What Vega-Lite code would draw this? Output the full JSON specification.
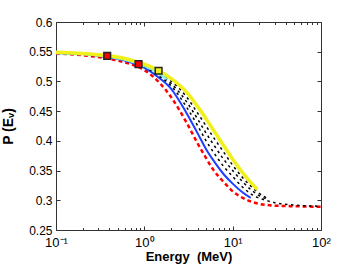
{
  "$schema": "https://vega.github.io/schema/vega-lite/v6.json",
  "width": 265,
  "height": 208,
  "autosize": {"type": "none"},
  "padding": {"left": 56, "top": 22, "right": 33, "bottom": 37},
  "background": "white",
  "config": {
    "view": {"stroke": null},
    "axis": {
      "labelFont": "Liberation Sans",
      "titleFont": "Liberation Sans",
      "labelFontSize": 12,
      "titleFontSize": 13,
      "titleFontWeight": "bold",
      "labelColor": "#000",
      "titleColor": "#000",
      "domainColor": "#333",
      "tickColor": "#333",
      "grid": false
    }
  },
  "datasets": {
    "curves": [
      {"s": "red", "E": 0.1, "P": 0.547}, {"s": "red", "E": 0.2, "P": 0.544}, {"s": "red", "E": 0.3, "P": 0.541}, {"s": "red", "E": 0.5, "P": 0.535}, {"s": "red", "E": 0.7, "P": 0.529}, {"s": "red", "E": 1, "P": 0.519}, {"s": "red", "E": 1.5, "P": 0.497}, {"s": "red", "E": 2, "P": 0.474}, {"s": "red", "E": 3, "P": 0.431}, {"s": "red", "E": 4, "P": 0.396}, {"s": "red", "E": 5, "P": 0.371}, {"s": "red", "E": 6, "P": 0.352}, {"s": "red", "E": 8, "P": 0.330}, {"s": "red", "E": 10, "P": 0.315}, {"s": "red", "E": 13, "P": 0.304}, {"s": "red", "E": 16, "P": 0.298}, {"s": "red", "E": 20, "P": 0.294}, {"s": "red", "E": 30, "P": 0.291}, {"s": "red", "E": 50, "P": 0.290}, {"s": "red", "E": 100, "P": 0.289},
      {"s": "blue", "E": 0.1, "P": 0.548}, {"s": "blue", "E": 0.2, "P": 0.546}, {"s": "blue", "E": 0.3, "P": 0.543}, {"s": "blue", "E": 0.5, "P": 0.538}, {"s": "blue", "E": 0.7, "P": 0.532}, {"s": "blue", "E": 1, "P": 0.523}, {"s": "blue", "E": 1.5, "P": 0.505}, {"s": "blue", "E": 2, "P": 0.488}, {"s": "blue", "E": 3, "P": 0.447}, {"s": "blue", "E": 4, "P": 0.413}, {"s": "blue", "E": 5, "P": 0.386}, {"s": "blue", "E": 6, "P": 0.368}, {"s": "blue", "E": 8, "P": 0.343}, {"s": "blue", "E": 10, "P": 0.328}, {"s": "blue", "E": 13, "P": 0.313}, {"s": "blue", "E": 16, "P": 0.304},
      {"s": "b1", "E": 0.1, "P": 0.548}, {"s": "b1", "E": 0.2, "P": 0.546}, {"s": "b1", "E": 0.3, "P": 0.544}, {"s": "b1", "E": 0.5, "P": 0.539}, {"s": "b1", "E": 0.7, "P": 0.533}, {"s": "b1", "E": 1, "P": 0.525}, {"s": "b1", "E": 1.5, "P": 0.508}, {"s": "b1", "E": 2, "P": 0.493}, {"s": "b1", "E": 3, "P": 0.457}, {"s": "b1", "E": 4, "P": 0.426}, {"s": "b1", "E": 5, "P": 0.400}, {"s": "b1", "E": 6, "P": 0.382}, {"s": "b1", "E": 8, "P": 0.356}, {"s": "b1", "E": 10, "P": 0.340}, {"s": "b1", "E": 13, "P": 0.322}, {"s": "b1", "E": 16, "P": 0.311}, {"s": "b1", "E": 19, "P": 0.305}, {"s": "b1", "E": 25, "P": 0.299}, {"s": "b1", "E": 30, "P": 0.296}, {"s": "b1", "E": 50, "P": 0.292}, {"s": "b1", "E": 100, "P": 0.290},
      {"s": "b2", "E": 0.1, "P": 0.549}, {"s": "b2", "E": 0.2, "P": 0.547}, {"s": "b2", "E": 0.3, "P": 0.544}, {"s": "b2", "E": 0.5, "P": 0.540}, {"s": "b2", "E": 0.7, "P": 0.534}, {"s": "b2", "E": 1, "P": 0.526}, {"s": "b2", "E": 1.5, "P": 0.511}, {"s": "b2", "E": 2, "P": 0.497}, {"s": "b2", "E": 3, "P": 0.466}, {"s": "b2", "E": 4, "P": 0.437}, {"s": "b2", "E": 5, "P": 0.413}, {"s": "b2", "E": 6, "P": 0.395}, {"s": "b2", "E": 8, "P": 0.368}, {"s": "b2", "E": 10, "P": 0.350}, {"s": "b2", "E": 13, "P": 0.331}, {"s": "b2", "E": 16, "P": 0.318}, {"s": "b2", "E": 19, "P": 0.310}, {"s": "b2", "E": 25, "P": 0.301},
      {"s": "b3", "E": 0.1, "P": 0.549}, {"s": "b3", "E": 0.2, "P": 0.547}, {"s": "b3", "E": 0.3, "P": 0.545}, {"s": "b3", "E": 0.5, "P": 0.540}, {"s": "b3", "E": 0.7, "P": 0.535}, {"s": "b3", "E": 1, "P": 0.528}, {"s": "b3", "E": 1.5, "P": 0.514}, {"s": "b3", "E": 2, "P": 0.501}, {"s": "b3", "E": 3, "P": 0.474}, {"s": "b3", "E": 4, "P": 0.447}, {"s": "b3", "E": 5, "P": 0.425}, {"s": "b3", "E": 6, "P": 0.407}, {"s": "b3", "E": 8, "P": 0.380}, {"s": "b3", "E": 10, "P": 0.359}, {"s": "b3", "E": 13, "P": 0.338}, {"s": "b3", "E": 16, "P": 0.324}, {"s": "b3", "E": 19, "P": 0.314}, {"s": "b3", "E": 25, "P": 0.303},
      {"s": "cyan", "E": 0.1, "P": 0.548}, {"s": "cyan", "E": 0.2, "P": 0.546}, {"s": "cyan", "E": 0.3, "P": 0.544}, {"s": "cyan", "E": 0.5, "P": 0.539}, {"s": "cyan", "E": 0.7, "P": 0.534}, {"s": "cyan", "E": 1, "P": 0.526}, {"s": "cyan", "E": 1.3, "P": 0.518}, {"s": "cyan", "E": 1.5, "P": 0.512}, {"s": "cyan", "E": 1.8, "P": 0.504},
      {"s": "green", "E": 0.1, "P": 0.548}, {"s": "green", "E": 0.2, "P": 0.546}, {"s": "green", "E": 0.3, "P": 0.544}, {"s": "green", "E": 0.5, "P": 0.540}, {"s": "green", "E": 0.7, "P": 0.535}, {"s": "green", "E": 0.9, "P": 0.530}, {"s": "green", "E": 1.05, "P": 0.526},
      {"s": "yellow", "E": 0.1, "P": 0.549}, {"s": "yellow", "E": 0.2, "P": 0.547}, {"s": "yellow", "E": 0.3, "P": 0.545}, {"s": "yellow", "E": 0.5, "P": 0.541}, {"s": "yellow", "E": 0.7, "P": 0.536}, {"s": "yellow", "E": 1, "P": 0.529}, {"s": "yellow", "E": 1.5, "P": 0.517}, {"s": "yellow", "E": 2, "P": 0.505}, {"s": "yellow", "E": 3, "P": 0.482}, {"s": "yellow", "E": 4, "P": 0.458}, {"s": "yellow", "E": 5, "P": 0.437}, {"s": "yellow", "E": 6, "P": 0.419}, {"s": "yellow", "E": 8, "P": 0.391}, {"s": "yellow", "E": 10, "P": 0.369}, {"s": "yellow", "E": 13, "P": 0.346}, {"s": "yellow", "E": 16, "P": 0.330}, {"s": "yellow", "E": 19, "P": 0.318}
    ],
    "marks": [
      {"s": "red", "E": 0.38, "P": 0.543},
      {"s": "red", "E": 0.86, "P": 0.529},
      {"s": "yellow", "E": 1.45, "P": 0.518}
    ]
  },
  "resolve": {"axis": {"x": "independent", "y": "independent"}},
  "layer": [
    {
      "data": {"name": "curves"},
      "transform": [{"filter": "datum.s === 'red'"}],
      "mark": {"type": "line", "interpolate": "monotone", "color": "#ff0000", "strokeWidth": 2.5, "strokeDash": [4, 3]},
      "encoding": {
        "x": {"field": "E", "type": "quantitative", "scale": {"type": "log", "domain": [0.1, 100], "nice": false},
          "axis": {"orient": "bottom", "values": [0.1, 1, 10, 100], "labelExpr": "datum.value < 0.5 ? '10⁻¹' : datum.value < 5 ? '10⁰' : datum.value < 50 ? '10¹' : '10²'", "labelFontSize": 13, "tickSize": -4, "labelPadding": 10, "labelFlush": false, "title": "Energy\u00a0 (MeV)", "titlePadding": 1}},
        "y": {"field": "P", "type": "quantitative", "scale": {"domain": [0.25, 0.6], "nice": false, "zero": false},
          "axis": {"orient": "left", "values": [0.25, 0.3, 0.35, 0.4, 0.45, 0.5, 0.55, 0.6], "format": ".2~f", "tickSize": -4, "labelPadding": 8, "title": "P (Eᵥ)", "titleFontSize": 14, "titlePadding": 13}}
      }
    },
    {
      "data": {"name": "curves"},
      "transform": [{"filter": "datum.s === 'blue'"}],
      "mark": {"type": "line", "interpolate": "monotone", "color": "#1f3fff", "strokeWidth": 2},
      "encoding": {
        "x": {"field": "E", "type": "quantitative", "axis": {"orient": "top", "values": [0.1, 1, 10, 100], "labels": false, "tickSize": -4, "title": null}},
        "y": {"field": "P", "type": "quantitative", "axis": {"orient": "right", "values": [0.25, 0.3, 0.35, 0.4, 0.45, 0.5, 0.55, 0.6], "labels": false, "tickSize": -4, "title": null}}
      }
    },
    {
      "data": {"name": "curves"},
      "transform": [{"filter": "datum.s === 'b1' || datum.s === 'b2' || datum.s === 'b3'"}],
      "mark": {"type": "line", "interpolate": "monotone", "color": "#000000", "strokeWidth": 1.5, "strokeDash": [2.5, 3.5]},
      "encoding": {
        "detail": {"field": "s"},
        "x": {"field": "E", "type": "quantitative", "axis": {"orient": "bottom", "values": [0.2, 0.3, 0.4, 0.5, 0.6, 0.7, 0.8, 0.9, 2, 3, 4, 5, 6, 7, 8, 9, 20, 30, 40, 50, 60, 70, 80, 90], "labels": false, "domain": false, "tickSize": -2.5, "title": null}},
        "y": {"field": "P", "type": "quantitative", "axis": null}
      }
    },
    {
      "data": {"name": "curves"},
      "transform": [{"filter": "datum.s === 'cyan'"}],
      "mark": {"type": "line", "interpolate": "monotone", "color": "#7ff0e8", "strokeWidth": 2.5},
      "encoding": {
        "x": {"field": "E", "type": "quantitative", "axis": {"orient": "top", "values": [0.2, 0.3, 0.4, 0.5, 0.6, 0.7, 0.8, 0.9, 2, 3, 4, 5, 6, 7, 8, 9, 20, 30, 40, 50, 60, 70, 80, 90], "labels": false, "domain": false, "tickSize": -2.5, "title": null}},
        "y": {"field": "P", "type": "quantitative", "axis": null}
      }
    },
    {
      "data": {"name": "curves"},
      "transform": [{"filter": "datum.s === 'green'"}],
      "mark": {"type": "line", "interpolate": "monotone", "color": "#5fe05f", "strokeWidth": 2},
      "encoding": {
        "x": {"field": "E", "type": "quantitative", "axis": null},
        "y": {"field": "P", "type": "quantitative", "axis": null}
      }
    },
    {
      "data": {"name": "curves"},
      "transform": [{"filter": "datum.s === 'yellow'"}],
      "mark": {"type": "line", "interpolate": "monotone", "color": "#f0f01a", "strokeWidth": 3.5},
      "encoding": {
        "x": {"field": "E", "type": "quantitative", "axis": null},
        "y": {"field": "P", "type": "quantitative", "axis": null}
      }
    },
    {
      "data": {"name": "marks"},
      "mark": {"type": "point", "shape": "square", "filled": true, "size": 45, "stroke": "#222", "strokeWidth": 1.5, "opacity": 1},
      "encoding": {
        "x": {"field": "E", "type": "quantitative", "axis": null},
        "y": {"field": "P", "type": "quantitative", "axis": null},
        "fill": {"field": "s", "type": "nominal", "scale": {"domain": ["red", "yellow"], "range": ["#ff0000", "#f0f01a"]}, "legend": null}
      }
    }
  ]
}
